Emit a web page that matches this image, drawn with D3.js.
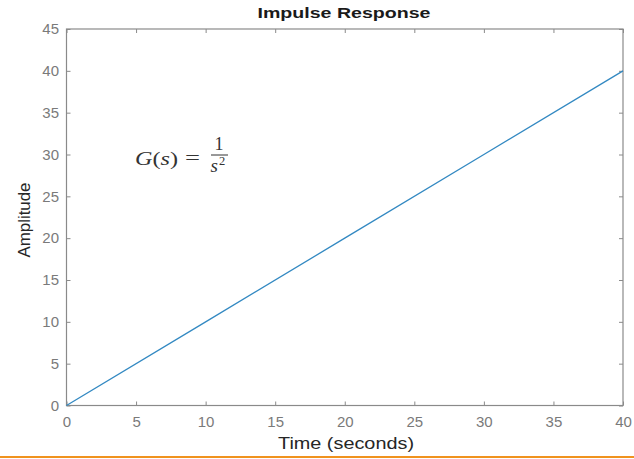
<!DOCTYPE html>
<html>
<head>
<meta charset="utf-8">
<script src="https://cdn.jsdelivr.net/npm/d3@7"></script>
<style>
  body { margin: 0; background: #fff; }
  svg { display: block; font-family: 'Liberation Sans', Arial, sans-serif; }
</style>
</head>
<body>
<div id="chart"></div>
<script>
// impulse response of G(s) = 1/s^2
const time = [0, 10, 20, 30, 40];
const amplitude = [0, 10, 20, 30, 40];
const xTicks = [0, 5, 10, 15, 20, 25, 30, 35, 40];
const yTicks = [0, 5, 10, 15, 20, 25, 30, 35, 40, 45];

const width = 634;
const height = 459;
const margin = { top: 29, right: 11, bottom: 53.5, left: 66.5 };
const w = width - margin.left - margin.right;
const h = height - margin.top - margin.bottom;

const svg = d3.select('#chart').append('svg')
  .attr('width', width)
  .attr('height', height);

const g = svg.append('g')
  .attr('transform', `translate(${margin.left},${margin.top})`);

const x = d3.scaleLinear().domain([0, 40]).range([0, w]);
const y = d3.scaleLinear().domain([0, 45]).range([h, 0]);

const axisColor = '#8a8a8a';
const labelColor = '#7a7a7a';

function styleAxis(sel, showLabels) {
  sel.select('.domain').remove();
  sel.selectAll('.tick line').attr('stroke', axisColor);
  sel.selectAll('.tick text')
    .attr('fill', labelColor)
    .style('font-size', '15px')
    .style('display', showLabels ? null : 'none');
}

// ticks point inward on all four sides
g.append('g').attr('transform', `translate(0,${h})`)
  .call(d3.axisBottom(x).tickValues(xTicks).tickSizeInner(-4).tickSizeOuter(0).tickPadding(11))
  .call(s => styleAxis(s, true));
g.append('g')
  .call(d3.axisTop(x).tickValues(xTicks).tickSizeInner(-4).tickSizeOuter(0))
  .call(s => styleAxis(s, false));
g.append('g')
  .call(d3.axisLeft(y).tickValues(yTicks).tickSizeInner(-4).tickSizeOuter(0).tickPadding(7.5))
  .call(s => styleAxis(s, true));
g.append('g').attr('transform', `translate(${w},0)`)
  .call(d3.axisRight(y).tickValues(yTicks).tickSizeInner(-4).tickSizeOuter(0))
  .call(s => styleAxis(s, false));

g.append('rect')
  .attr('width', w).attr('height', h)
  .attr('fill', 'none')
  .attr('stroke', axisColor)
  .attr('stroke-width', 1.2);

const line = d3.line()
  .x((d, i) => x(time[i]))
  .y(d => y(d));

g.append('path')
  .datum(amplitude)
  .attr('d', line)
  .attr('fill', 'none')
  .attr('stroke', '#3389c2')
  .attr('stroke-width', 1.3);

// title and axis labels (the original glyphs are drawn wide)
svg.append('text')
  .attr('x', 344).attr('y', 18)
  .attr('text-anchor', 'middle')
  .attr('textLength', 173).attr('lengthAdjust', 'spacingAndGlyphs')
  .style('font-size', '15px').style('font-weight', 'bold')
  .attr('fill', '#1a1a1a')
  .text('Impulse Response');

svg.append('text')
  .attr('x', 346).attr('y', 449)
  .attr('text-anchor', 'middle')
  .attr('textLength', 136).attr('lengthAdjust', 'spacingAndGlyphs')
  .style('font-size', '16.5px')
  .attr('fill', '#262626')
  .text('Time (seconds)');

svg.append('text')
  .attr('transform', 'translate(29.5,220) rotate(-90)')
  .attr('text-anchor', 'middle')
  .attr('textLength', 75).attr('lengthAdjust', 'spacingAndGlyphs')
  .style('font-size', '16.5px')
  .attr('fill', '#262626')
  .text('Amplitude');

// transfer function annotation
const eq = svg.append('g').attr('fill', '#333')
  .style('font-family', "'Liberation Serif', 'DejaVu Serif', serif");
eq.append('text')
  .attr('x', 135).attr('y', 165)
  .attr('textLength', 43).attr('lengthAdjust', 'spacingAndGlyphs')
  .style('font-size', '18px')
  .html('<tspan font-style="italic">G</tspan>(<tspan font-style="italic">s</tspan>)');
eq.append('text')
  .attr('x', 185).attr('y', 164)
  .attr('textLength', 15).attr('lengthAdjust', 'spacingAndGlyphs')
  .style('font-size', '18px')
  .text('=');
eq.append('text')
  .attr('x', 219).attr('y', 150)
  .attr('text-anchor', 'middle')
  .style('font-size', '18px')
  .text('1');
eq.append('line')
  .attr('x1', 211).attr('x2', 228)
  .attr('y1', 155).attr('y2', 155)
  .attr('stroke', '#333').attr('stroke-width', 1);
eq.append('text')
  .attr('x', 210.5).attr('y', 172)
  .style('font-size', '19px')
  .html('<tspan font-style="italic">s</tspan><tspan dx="1" dy="-7" font-size="12.5px">2</tspan>');

// orange divider at the bottom
svg.append('line')
  .attr('x1', 0).attr('x2', width)
  .attr('y1', 457).attr('y2', 457)
  .attr('stroke', '#f0921e').attr('stroke-width', 2);
</script>
</body>
</html>
